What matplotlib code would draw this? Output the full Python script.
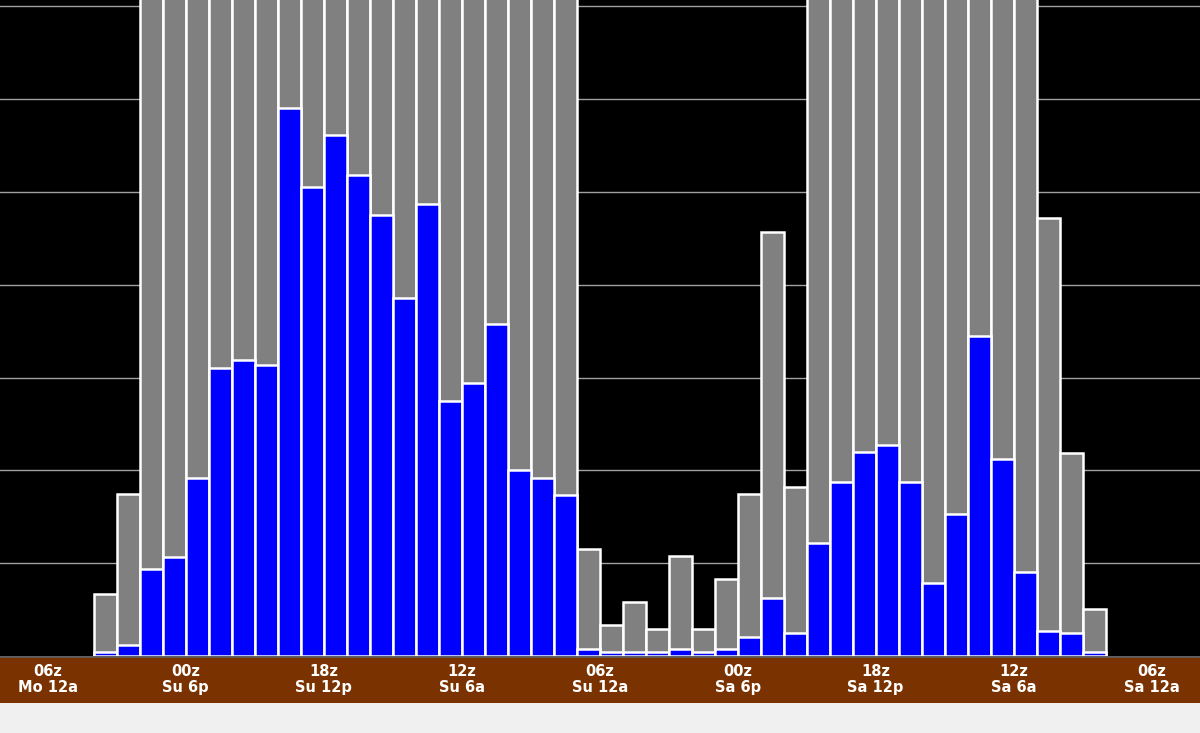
import matplotlib
matplotlib.use("Agg")
import matplotlib.pyplot as plt
import numpy as np

TOP = 8.0
gray = [0.67, 1.75, TOP, TOP, TOP, TOP, TOP, TOP, TOP, TOP, TOP, TOP, TOP, TOP, TOP, TOP, TOP, TOP, TOP, TOP, TOP,
        1.15, 0.33, 0.58, 0.29, 1.08, 0.29, 0.83, 1.75, 4.57, 1.82,
        TOP, TOP, TOP, TOP, TOP, TOP, TOP, TOP, TOP, TOP, 4.72, 2.19, 0.51]
blue = [0.04, 0.12, 0.94, 1.07, 1.92, 3.10, 3.19, 3.14, 5.91, 5.06, 5.61, 5.18, 4.75, 3.86, 4.87, 2.75, 2.94, 3.58,
        2.00, 1.92, 1.73, 0.08, 0.04, 0.04, 0.04, 0.08, 0.04, 0.08, 0.20, 0.63, 0.25, 1.22, 1.88, 2.20, 2.27,
        1.88, 0.79, 1.53, 3.45, 2.12, 0.91, 0.27, 0.25, 0.04]
tick_pos = [-2.5, 3.5, 9.5, 15.5, 21.5, 27.5, 33.5, 39.5, 45.5]
tick_labels = ["06z\nMo 12a", "00z\nSu 6p", "18z\nSu 12p", "12z\nSu 6a", "06z\nSu 12a",
               "00z\nSa 6p", "18z\nSa 12p", "12z\nSa 6a", "06z\nSa 12a"]

fig = plt.figure(figsize=(12, 7.33), dpi=100)
fig.patch.set_facecolor("#f0f0f0")
xlim = (-4.57, 47.6)

ax = fig.add_axes([0, 77/733, 1, 656/733])
ax.set_facecolor("black")
x = np.arange(len(gray))
ax.set_xlim(*xlim)
ax.set_ylim(0, 7.07)
for g in range(1, 8):
    ax.axhline(g, color="#a0a0a0", lw=1, zorder=1)
ax.bar(x, gray, width=1.0, color="#808080", edgecolor="white", linewidth=1.8, zorder=2)
ax.bar(x, blue, width=1.0, color="#0000ff", edgecolor="white", linewidth=1.8, zorder=3)
ax.set_xticks([]); ax.set_yticks([])
for s in ax.spines.values():
    s.set_visible(False)

band = fig.add_axes([0, 30/733, 1, 47/733])
band.set_facecolor("#7a3300")
band.set_xlim(*xlim); band.set_ylim(0, 1)
band.set_xticks([]); band.set_yticks([])
for s in band.spines.values():
    s.set_visible(False)
band.axhline(1, color="#606060", lw=2)
for p, l in zip(tick_pos, tick_labels):
    band.text(p, 0.5, l, color="white", ha="center", va="center", fontsize=10.5,
              fontweight="bold", linespacing=1.1)

fig.savefig("out.png", dpi=100, facecolor=fig.get_facecolor())
